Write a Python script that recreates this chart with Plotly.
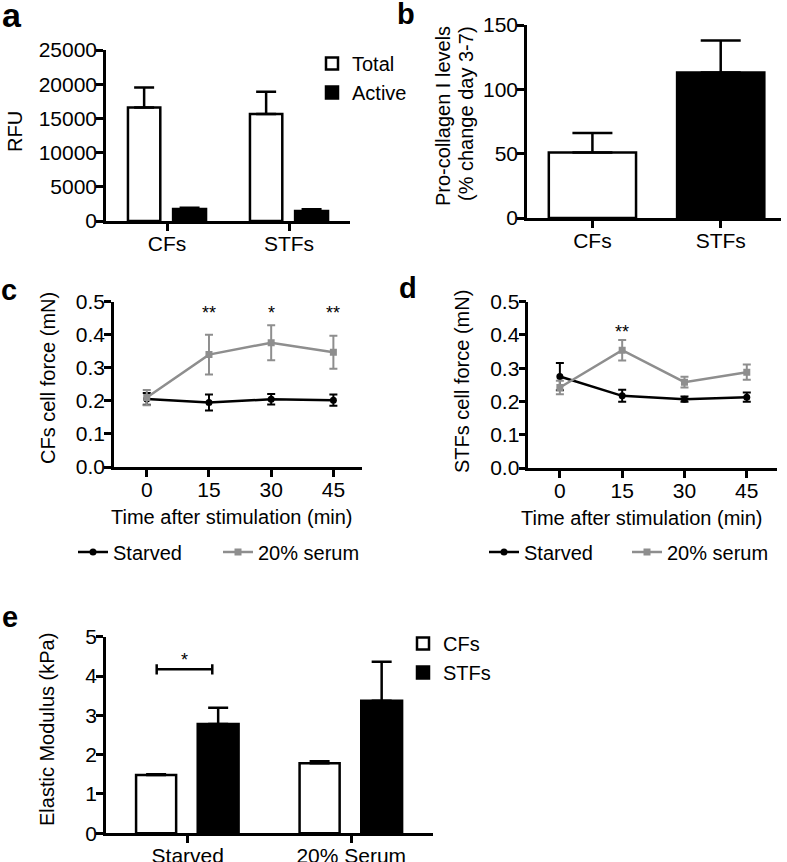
import plotly.graph_objects as go

W, H = 787, 862

# ---------------- data ----------------
# panel a
a_groups = ["CFs", "STFs"]
a_total = [16600, 15630]
a_total_err = [2930, 3270]
a_active = [1750, 1460]
a_active_err = [200, 240]

# panel b
b_groups = ["CFs", "STFs"]
b_values = [51, 113]
b_err = [15, 25]

# panel c / d
times = [0, 15, 30, 45]
c_starved = [0.206, 0.195, 0.205, 0.202]
c_starved_err = [0.018, 0.024, 0.016, 0.017]
c_serum = [0.210, 0.340, 0.376, 0.347]
c_serum_err = [0.023, 0.060, 0.053, 0.050]
c_star_times = [15, 30, 45]
c_star_labels = ["**", "*", "**"]

d_starved = [0.275, 0.217, 0.207, 0.213]
d_starved_err = [0.041, 0.018, 0.008, 0.014]
d_serum = [0.242, 0.354, 0.258, 0.288]
d_serum_err = [0.020, 0.031, 0.016, 0.023]
d_star_times = [15]
d_star_labels = ["**"]

# panel e
e_groups = ["Starved", "20% Serum"]
e_cfs = [1.48, 1.78]
e_cfs_err = [0.02, 0.05]
e_stfs = [2.78, 3.37]
e_stfs_err = [0.41, 0.99]

# ---------------- helpers ----------------
def px(x):
    return x / W


def py(y):
    return 1 - y / H


FONT = "Liberation Sans, Arial, Helvetica, sans-serif"
GRAY = "#8e8e8e"
LW = 2.5

fig = go.Figure()


def up_err(vals, width, thick=LW):
    return dict(type="data", symmetric=False, array=vals, arrayminus=[0] * len(vals),
                color="black", thickness=thick, width=width)


# panel a
fig.add_trace(go.Bar(x=a_groups, y=a_total, name="Total", xaxis="x", yaxis="y",
                     marker=dict(color="white", line=dict(color="black", width=LW)),
                     width=0.265, offset=-0.32, error_y=up_err(a_total_err, 10),
                     legend="legend"))
fig.add_trace(go.Bar(x=a_groups, y=a_active, name="Active", xaxis="x", yaxis="y",
                     marker=dict(color="black", line=dict(color="black", width=LW)),
                     width=0.27, offset=0.05, error_y=up_err(a_active_err, 10),
                     legend="legend"))

# panel b
fig.add_trace(go.Bar(x=b_groups, y=b_values, xaxis="x2", yaxis="y2", showlegend=False,
                     marker=dict(color=["white", "black"], line=dict(color="black", width=LW)),
                     width=0.68, error_y=up_err(b_err, 20)))

# panel c
fig.add_trace(go.Scatter(x=times, y=c_starved, name="Starved", xaxis="x3", yaxis="y3",
                         mode="lines+markers", line=dict(color="black", width=LW),
                         marker=dict(symbol="circle", size=7, color="black"),
                         error_y=dict(type="data", array=c_starved_err, color="black",
                                      thickness=2, width=4),
                         legend="legend2"))
fig.add_trace(go.Scatter(x=times, y=c_serum, name="20% serum", xaxis="x3", yaxis="y3",
                         mode="lines+markers", line=dict(color=GRAY, width=LW),
                         marker=dict(symbol="square", size=7, color=GRAY),
                         error_y=dict(type="data", array=c_serum_err, color=GRAY,
                                      thickness=2, width=4),
                         legend="legend2"))

# panel d
fig.add_trace(go.Scatter(x=times, y=d_starved, name="Starved", xaxis="x4", yaxis="y4",
                         mode="lines+markers", line=dict(color="black", width=LW),
                         marker=dict(symbol="circle", size=7, color="black"),
                         error_y=dict(type="data", array=d_starved_err, color="black",
                                      thickness=2, width=4),
                         legend="legend3"))
fig.add_trace(go.Scatter(x=times, y=d_serum, name="20% serum", xaxis="x4", yaxis="y4",
                         mode="lines+markers", line=dict(color=GRAY, width=LW),
                         marker=dict(symbol="square", size=7, color=GRAY),
                         error_y=dict(type="data", array=d_serum_err, color=GRAY,
                                      thickness=2, width=4),
                         legend="legend3"))

# panel e
fig.add_trace(go.Bar(x=e_groups, y=e_cfs, name="CFs", xaxis="x5", yaxis="y5",
                     marker=dict(color="white", line=dict(color="black", width=LW)),
                     width=0.245, offset=-0.316, error_y=up_err(e_cfs_err, 10),
                     legend="legend4"))
fig.add_trace(go.Bar(x=e_groups, y=e_stfs, name="STFs", xaxis="x5", yaxis="y5",
                     marker=dict(color="black", line=dict(color="black", width=LW)),
                     width=0.25, offset=0.061, error_y=up_err(e_stfs_err, 10),
                     legend="legend4"))

# ---------------- axes ----------------
def base_axis(domain, anchor, **kw):
    d = dict(domain=domain, anchor=anchor, showline=True, linecolor="black", linewidth=LW,
             ticks="outside", ticklen=7, tickwidth=LW, tickcolor="black", automargin=False,
             showgrid=False, zeroline=False, tickfont=dict(size=21, color="black"),
             ticklabelstandoff=-5, fixedrange=True)
    d.update(kw)
    return d


fig.update_layout(
    xaxis=base_axis([px(106), px(350)], "y", type="category", range=[-0.5, 1.5]),
    yaxis=base_axis([py(221), py(50)], "x", range=[0, 25000], dtick=5000, tickformat="d"),
    xaxis2=base_axis([px(527), px(781)], "y2", type="category", range=[-0.51, 1.47]),
    yaxis2=base_axis([py(218), py(25)], "x2", range=[0, 150], dtick=50),
    xaxis3=base_axis([px(114), px(362)], "y3", range=[-7.9, 51.9], tickvals=times),
    yaxis3=base_axis([py(467), py(301.7)], "x3", range=[0, 0.5], dtick=0.1, tickformat=".1f"),
    xaxis4=base_axis([px(528.3), px(776.7)], "y4", range=[-7.6, 52.2], tickvals=times),
    yaxis4=base_axis([py(468), py(301.7)], "x4", range=[0, 0.5], dtick=0.1, tickformat=".1f"),
    xaxis5=base_axis([px(106), px(433)], "y5", type="category", range=[-0.5, 1.5]),
    yaxis5=base_axis([py(833.3), py(636.7)], "x5", range=[0, 5], dtick=1),
)

# ---------------- legends ----------------
leg_common = dict(font=dict(size=20, color="black", family=FONT), bgcolor="rgba(0,0,0,0)",
                  borderwidth=0, itemclick=False, itemdoubleclick=False)
fig.update_layout(
    legend=dict(x=px(312), y=py(44), xanchor="left", yanchor="top", **leg_common),
    legend2=dict(x=px(73), y=py(552), xanchor="left", yanchor="middle", orientation="h",
                 entrywidth=100, **leg_common),
    legend3=dict(x=px(484), y=py(552), xanchor="left", yanchor="middle", orientation="h",
                 entrywidth=98, **leg_common),
    legend4=dict(x=px(403), y=py(624), xanchor="left", yanchor="top", **leg_common),
)

# ---------------- annotations ----------------
ann = []


def txt(x, y, s, size=20, angle=0):
    ann.append(dict(x=px(x), y=py(y), xref="paper", yref="paper", text=s, showarrow=False,
                    textangle=angle, xanchor="center", yanchor="middle",
                    font=dict(size=size, color="black", family=FONT)))


# panel letters
txt(12, 15, "<b>a</b>", 34)
txt(406, 14, "<b>b</b>", 29)
txt(9, 290, "<b>c</b>", 29)
txt(408, 288, "<b>d</b>", 29)
txt(10, 617, "<b>e</b>", 29)

# axis titles
txt(15, 132, "RFU", 20, -90)
txt(443, 116, "Pro-collagen I levels", 20, -90)
txt(466, 114, "(% change day 3-7)", 20, -90)
txt(48, 378, "CFs cell force (mN)", 20, -90)
txt(462, 382, "STFs cell force (mN)", 20, -90)
txt(47, 730, "Elastic Modulus (kPa)", 20, -90)
txt(232, 517, "Time after stimulation (min)", 20)
txt(642, 518, "Time after stimulation (min)", 20)

# significance stars
for t, s in zip(c_star_times, c_star_labels):
    ann.append(dict(x=t, y=0.467, xref="x3", yref="y3", text=s, showarrow=False,
                    xanchor="center", yanchor="middle",
                    font=dict(size=18, color="black", family=FONT)))
for t, s in zip(d_star_times, d_star_labels):
    ann.append(dict(x=t, y=0.408, xref="x4", yref="y4", text=s, showarrow=False,
                    xanchor="center", yanchor="middle",
                    font=dict(size=18, color="black", family=FONT)))

# bracket in panel e (CFs vs STFs, starved)
br_x0, br_x1, br_y, br_h = -0.19, 0.15, 4.17, 0.13
shapes = [
    dict(type="line", xref="x5", yref="y5", x0=br_x0, x1=br_x1, y0=br_y, y1=br_y,
         line=dict(color="black", width=LW)),
    dict(type="line", xref="x5", yref="y5", x0=br_x0, x1=br_x0, y0=br_y - br_h, y1=br_y + br_h,
         line=dict(color="black", width=LW)),
    dict(type="line", xref="x5", yref="y5", x0=br_x1, x1=br_x1, y0=br_y - br_h, y1=br_y + br_h,
         line=dict(color="black", width=LW)),
]
ann.append(dict(x=(br_x0 + br_x1) / 2, y=4.42, xref="x5", yref="y5", text="*", showarrow=False,
                xanchor="center", yanchor="middle", font=dict(size=18, color="black", family=FONT)))

fig.update_layout(
    width=W, height=H, margin=dict(l=0, r=0, t=0, b=0, autoexpand=False),
    paper_bgcolor="white", plot_bgcolor="white",
    font=dict(family=FONT, color="black", size=20),
    annotations=ann, shapes=shapes, barmode="group",
    showlegend=True,
)

# the default page keeps the browser's 8px body margin; remove it so the figure fills the window
fig.write_html("out.html", config={"displayModeBar": False},
               post_script="document.body.style.margin='0px';")
